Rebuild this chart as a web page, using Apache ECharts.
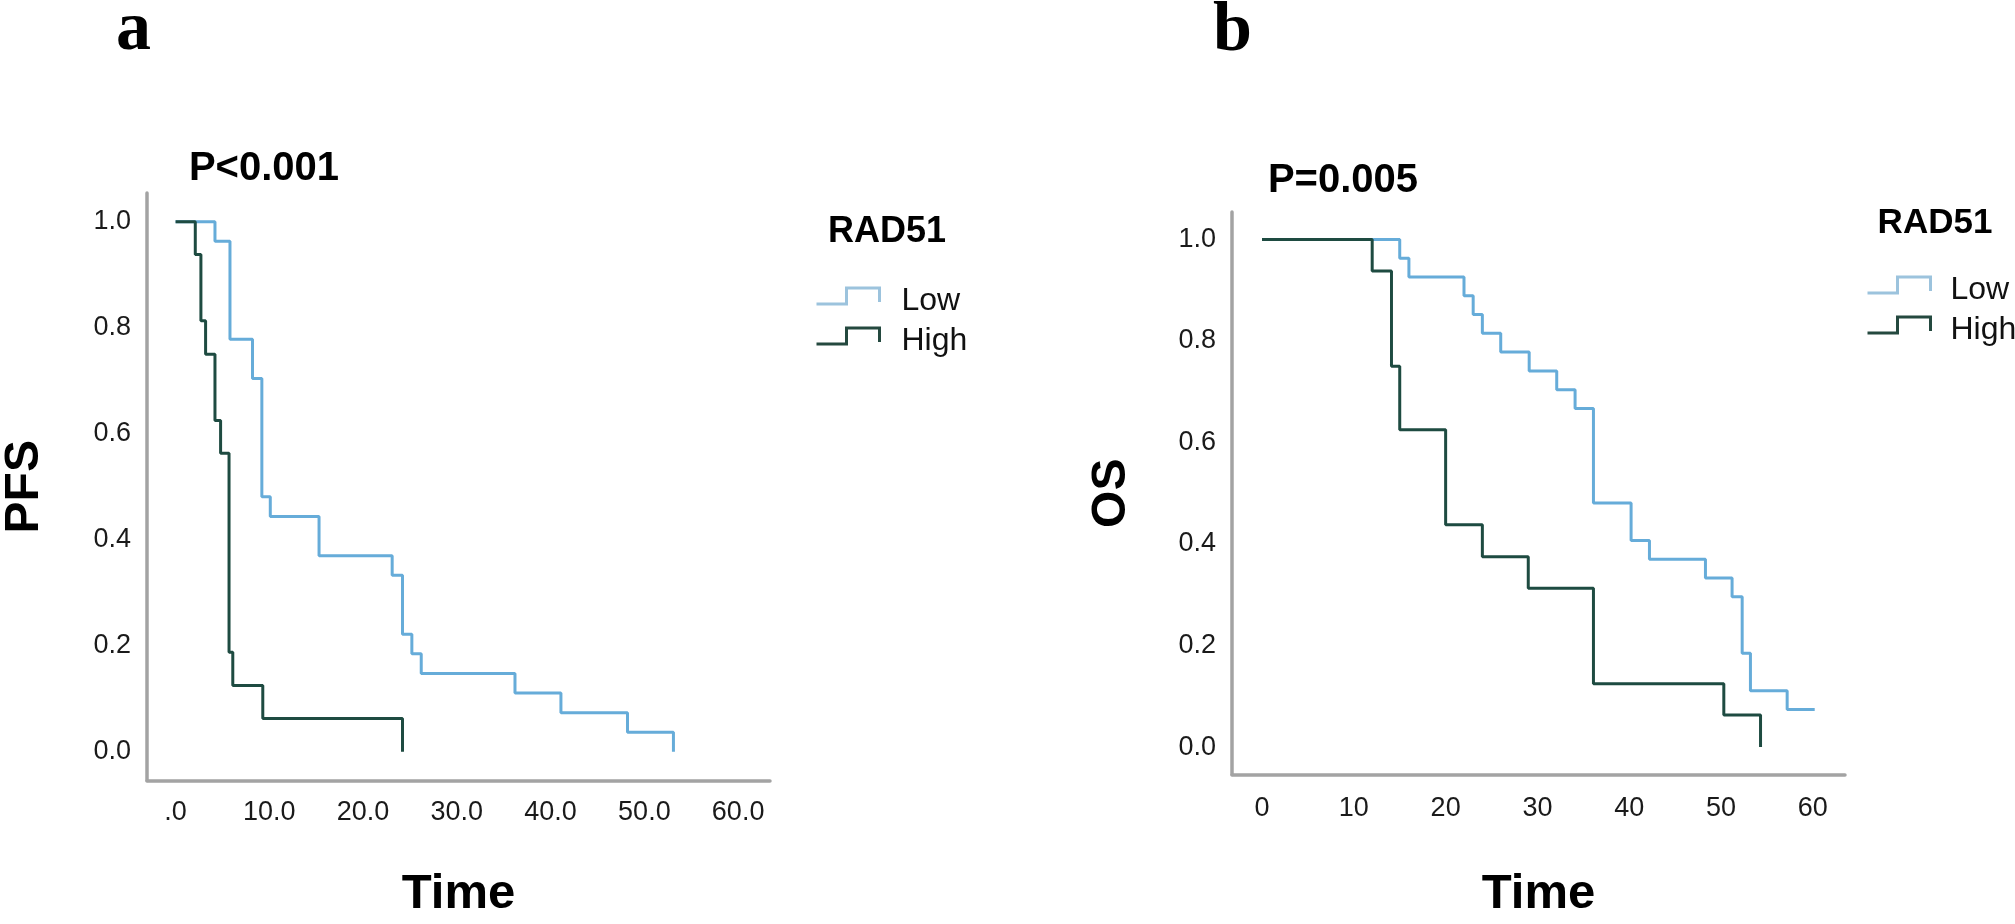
<!DOCTYPE html>
<html>
<head>
<meta charset="utf-8">
<script src="https://cdn.jsdelivr.net/npm/echarts@6/dist/echarts.min.js"></script>
<style>
  html, body { margin: 0; padding: 0; background: #fff; }
  #chart { width: 2015px; height: 924px; }
</style>
</head>
<body>
<div id="chart"></div>
<script>
// Kaplan-Meier steps: time of each drop and survival after it
const pfsLowTime  = [0, 4.2, 5.8, 8.2, 9.2, 10.1, 15.3, 23.1, 24.2, 25.2, 26.2, 36.2, 41.1, 48.2, 53.1];
const pfsLowSurv  = [1, 0.963, 0.778, 0.704, 0.481, 0.444, 0.370, 0.333, 0.222, 0.185, 0.148, 0.111, 0.074, 0.037, 0];
const pfsHighTime = [0, 2.1, 2.7, 3.2, 4.2, 4.8, 5.7, 6.1, 9.3, 24.2];
const pfsHighSurv = [1, 0.938, 0.813, 0.75, 0.625, 0.563, 0.188, 0.125, 0.063, 0];

const osLowTime  = [0, 15.0, 16.0, 22.0, 23.0, 24.0, 26.0, 29.1, 32.1, 34.1, 36.1, 40.2, 42.2, 48.3, 51.2, 52.3, 53.2, 57.2, 60.2];
const osLowSurv  = [1, 0.963, 0.926, 0.889, 0.852, 0.815, 0.778, 0.741, 0.704, 0.667, 0.481, 0.407, 0.370, 0.333, 0.296, 0.185, 0.111, 0.074, 0.074];
const osHighTime = [0, 12.0, 14.1, 15.0, 20.0, 24.0, 29.0, 36.1, 50.3, 54.3];
const osHighSurv = [1, 0.938, 0.75, 0.625, 0.438, 0.375, 0.313, 0.125, 0.063, 0];

const groups = ['Low', 'High'];
const xTicks = [0, 10, 20, 30, 40, 50, 60];
const xLabelsA = ['.0', '10.0', '20.0', '30.0', '40.0', '50.0', '60.0'];
const xLabelsB = ['0', '10', '20', '30', '40', '50', '60'];
const yTicks = [0, 0.2, 0.4, 0.6, 0.8, 1.0];
const yLabels = ['0.0', '0.2', '0.4', '0.6', '0.8', '1.0'];

const LOW = '#66acd9', HIGH = '#1e4b41';
const SANS = 'Liberation Sans, Arial, sans-serif';

function pairs(t, s) { return t.map((v, i) => [v, s[i]]); }

function xAx(idx, labels, margin, gap, min, max) {
    return {
        type: 'value', gridIndex: idx, min: min, max: max,
        name: 'Time', nameLocation: 'middle', nameGap: gap,
        nameTextStyle: { fontFamily: SANS, fontSize: 49, fontWeight: 'bold', color: '#000', verticalAlign: 'middle' },
        axisLine: { onZero: false, lineStyle: { color: '#a3a3a3', width: 3.5 } },
        axisTick: { show: false },
        splitLine: { show: false },
        axisLabel: {
            customValues: xTicks, margin: margin,
            fontFamily: SANS, fontSize: 27, color: '#1a1a1a',
            formatter: v => labels[xTicks.indexOf(v)]
        }
    };
}
function yAx(idx, name, gap) {
    return {
        type: 'value', gridIndex: idx, min: -0.054, max: 1.054,
        name: name, nameLocation: 'middle', nameGap: gap, nameRotate: 90,
        nameTextStyle: { fontFamily: SANS, fontSize: 48, fontWeight: 'bold', color: '#000', verticalAlign: 'middle' },
        axisLine: { show: true, onZero: false, lineStyle: { color: '#a3a3a3', width: 3.5 } },
        axisTick: { show: false },
        splitLine: { show: false },
        axisLabel: {
            customValues: yTicks, margin: 16,
            fontFamily: SANS, fontSize: 27, color: '#1a1a1a',
            formatter: v => yLabels[yTicks.indexOf(Math.round(v * 10) / 10)]
        }
    };
}
function km(name, idx, t, s, color) {
    return {
        name: name, type: 'line', step: 'end', xAxisIndex: idx, yAxisIndex: idx,
        symbol: 'none', data: pairs(t, s),
        lineStyle: { color: color, width: 3 }, itemStyle: { color: color },
        animation: false
    };
}
// step-shaped key like SPSS; the empty sub-path at the bottom lifts the step a little above the text middle
function legendAt(left, top, textPad) {
    return {
        orient: 'vertical', left: left, top: top,
        icon: 'path://M0,16L30,16L30,0L63,0L63,14M0,26L0,26',
        itemWidth: 63, itemHeight: 26, itemGap: 8,
        selectedMode: false,
        textStyle: { fontFamily: SANS, fontSize: 32, color: '#111', padding: [0, 0, 0, textPad] },
        data: [
            { name: groups[0], itemStyle: { color: 'none', borderColor: '#9cc3dd', borderWidth: 3 } },
            { name: groups[1], itemStyle: { color: 'none', borderColor: '#24493f', borderWidth: 3 } }
        ]
    };
}
function label(x, y, text, font, align) {
    return { type: 'text', x: x, y: y, style: { text: text, font: font, fill: '#000', textAlign: align || 'center', textVerticalAlign: 'middle' } };
}

const chart = echarts.init(document.getElementById('chart'), null, { renderer: 'canvas' });
chart.setOption({
    backgroundColor: '#fff',
    animation: false,
    grid: [
        { left: 143, top: 193, width: 627, height: 592 },
        { left: 1232, top: 212, width: 613, height: 565 }
    ],
    xAxis: [
        xAx(0, xLabelsA, 19, 114, -3.05, 63.4),
        xAx(1, xLabelsB, 21, 120, -3.27, 63.5)
    ],
    yAxis: [
        yAx(0, 'PFS', 122),
        yAx(1, 'OS', 120)
    ],
    legend: [legendAt(809, 280, 17), legendAt(1860, 269, 15)],
    series: [
        km(groups[0], 0, pfsLowTime, pfsLowSurv, LOW),
        km(groups[1], 0, pfsHighTime, pfsHighSurv, HIGH),
        km(groups[0], 1, osLowTime, osLowSurv, LOW),
        km(groups[1], 1, osHighTime, osHighSurv, HIGH)
    ],
    graphic: [
        label(116, 31, 'a', 'bold 70px Liberation Serif, Times New Roman, serif', 'left'),
        label(1213, 32, 'b', 'bold 70px Liberation Serif, Times New Roman, serif', 'left'),
        label(264, 169, 'P<0.001', 'bold 40px ' + SANS),
        label(1343, 181, 'P=0.005', 'bold 40px ' + SANS),
        label(887, 232, 'RAD51', 'bold 36px ' + SANS),
        label(1935, 223, 'RAD51', 'bold 35px ' + SANS)
    ]
});
</script>
</body>
</html>
